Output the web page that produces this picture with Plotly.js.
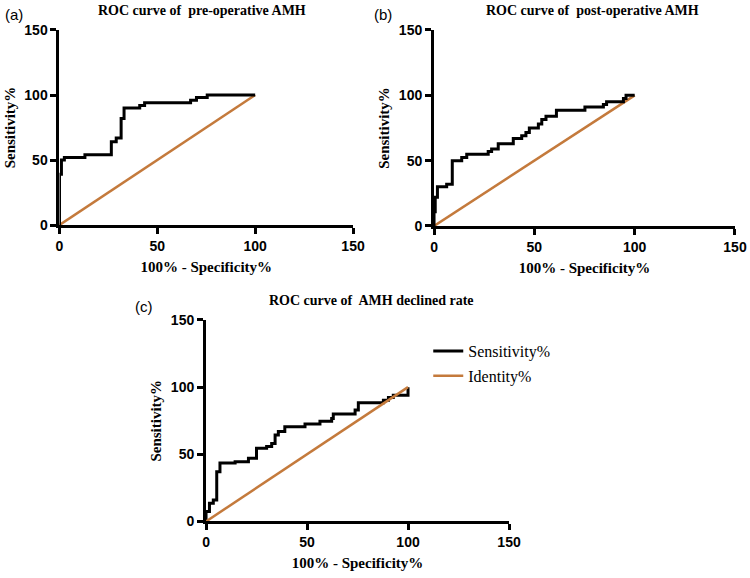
<!DOCTYPE html>
<html>
<head>
<meta charset="utf-8">
<script src="https://cdn.plot.ly/plotly-3.0.1.min.js"></script>
<style>html,body{margin:0;padding:0;background:#fff;}#chart{width:750px;height:578px;}</style>
</head>
<body>
<div id="chart"></div>
<script>
// Panel (a): pre-operative AMH
var preFpr = [0, 0, 1, 1, 2.5, 2.5, 13, 13, 26.5, 26.5, 29, 29, 31.5, 31.5, 33, 33, 41, 41, 43.5, 43.5, 67, 67, 70, 70, 75.5, 75.5, 100];
var preTpr = [0, 39, 39, 50, 50, 52, 52, 54, 54, 64, 64, 67, 67, 82, 82, 90, 90, 92, 92, 94, 94, 96, 96, 98, 98, 100, 100];
// Panel (b): post-operative AMH
var postFpr = [0, 0, 0.6, 0.6, 1.7, 1.7, 6.3, 6.3, 9.1, 9.1, 13.8, 13.8, 16.3, 16.3, 27, 27, 28.7, 28.7, 32, 32, 39.5, 39.5, 43.7, 43.7, 45.8, 45.8, 47.5, 47.5, 52, 52, 53.7, 53.7, 55.8, 55.8, 61, 61, 75.2, 75.2, 84.4, 84.4, 86, 86, 94.4, 94.4, 95.7, 95.7, 100];
var postTpr = [0, 11, 11, 22, 22, 30, 30, 32, 32, 50, 50, 52.5, 52.5, 55, 55, 57, 57, 59, 59, 63, 63, 67, 67, 69, 69, 71.5, 71.5, 75, 75, 78, 78, 81.5, 81.5, 84, 84, 88.5, 88.5, 91, 91, 93, 93, 95, 95, 97.5, 97.5, 100, 100];
// Panel (c): AMH declined rate
var rateFpr = [0, 0, 1.7, 1.7, 3.6, 3.6, 5.3, 5.3, 6.9, 6.9, 14.4, 14.4, 21, 21, 25, 25, 30, 30, 32.5, 32.5, 34.2, 34.2, 35.8, 35.8, 39, 39, 49, 49, 56.4, 56.4, 62.2, 62.2, 63, 63, 73.8, 73.8, 75.4, 75.4, 87.8, 87.8, 90.3, 90.3, 92.7, 92.7, 100, 100];
var rateTpr = [0, 7.5, 7.5, 13.5, 13.5, 16, 16, 37, 37, 43.5, 43.5, 44.5, 44.5, 47, 47, 54.5, 54.5, 55.8, 55.8, 58, 58, 64.3, 64.3, 67, 67, 70.5, 70.5, 72.5, 72.5, 74.7, 74.7, 76.7, 76.7, 80, 80, 83, 83, 88.3, 88.3, 90.3, 90.3, 92.3, 92.3, 94, 94, 100];
// Identity (reference) line
var identX = [0, 100];
var identY = [0, 100];

var seriesNames = ["Sensitivity%", "Identity%"];
var panelTitles = ["ROC curve of  pre-operative AMH", "ROC curve of  post-operative AMH", "ROC curve of  AMH declined rate"];
var panelLabels = ["(a)", "(b)", "(c)"];
var xTitle = "100% - Specificity%";
var yTitle = "Sensitivity%";
var tickVals = [0, 50, 100, 150];
var tickText = ["0", "50", "100", "150"];

var black = "#000000";
var orange = "#C47A3C";

function curve(x, y, xa, ya, show) {
  return {x: x, y: y, xaxis: xa, yaxis: ya, type: "scatter", mode: "lines",
    line: {color: black, width: 3, shape: "linear"}, name: seriesNames[0],
    showlegend: show, legendgroup: "g1", hoverinfo: "skip"};
}
function ident(xa, ya, show) {
  return {x: identX, y: identY, xaxis: xa, yaxis: ya, type: "scatter", mode: "lines",
    line: {color: orange, width: 2.5}, name: seriesNames[1],
    showlegend: show, legendgroup: "g2", hoverinfo: "skip"};
}

var data = [
  ident("x", "y", false), curve(preFpr, preTpr, "x", "y", false),
  ident("x2", "y2", false), curve(postFpr, postTpr, "x2", "y2", false),
  curve(rateFpr, rateTpr, "x3", "y3", true), ident("x3", "y3", true)
];

var tickFont = {family: "Liberation Sans, Arial, sans-serif", size: 14, color: black, weight: 700};
var titleFont = {family: "Liberation Serif, Times New Roman, serif", size: 15, color: black, weight: 700};

function xaxis(dom, anchor) {
  return {domain: dom, anchor: anchor, range: [0, 150], tickvals: tickVals, ticktext: tickText,
    showgrid: false, zeroline: false, showline: true, linewidth: 3, linecolor: black,
    ticks: "outside", ticklen: 6, tickwidth: 3, tickcolor: black, tickfont: tickFont,
    title: {text: xTitle, font: titleFont, standoff: 9}, fixedrange: true};
}
function yaxis(dom, anchor) {
  return {domain: dom, anchor: anchor, range: [0, 150], tickvals: tickVals, ticktext: tickText,
    showgrid: false, zeroline: false, showline: true, linewidth: 3, linecolor: black,
    ticks: "outside", ticklen: 6, tickwidth: 3, tickcolor: black, tickfont: tickFont,
    title: {text: yTitle, font: titleFont, standoff: 6}, fixedrange: true};
}

var panelTitleFont = {family: "Liberation Serif, Times New Roman, serif", size: 14, color: black, weight: 700};
var labelFont = {family: "Liberation Sans, Arial, sans-serif", size: 15, color: black};

var layout = {
  width: 750, height: 578,
  margin: {l: 0, r: 0, t: 0, b: 0},
  paper_bgcolor: "#ffffff", plot_bgcolor: "#ffffff",
  xaxis: xaxis([0.0793, 0.4707], "y"),
  yaxis: yaxis([0.6107, 0.9481], "x"),
  xaxis2: xaxis([0.5787, 0.98], "y2"),
  yaxis2: yaxis([0.609, 0.9481], "x2"),
  xaxis3: xaxis([0.2747, 0.6787], "y3"),
  yaxis3: yaxis([0.0978, 0.4464], "x3"),
  showlegend: true,
  legend: {x: 0.571, y: 1 - 334/578, xanchor: "left", yanchor: "top", bgcolor: "rgba(0,0,0,0)",
    font: {family: "Liberation Serif, Times New Roman, serif", size: 16, color: black},
    traceorder: "grouped", tracegroupgap: 1, itemwidth: 30},
  annotations: [
    {text: panelTitles[0], xref: "paper", yref: "paper", x: 202/750, y: 1 - 10.5/578, xanchor: "center", yanchor: "middle", showarrow: false, font: panelTitleFont},
    {text: panelTitles[1], xref: "paper", yref: "paper", x: 592/750, y: 1 - 10.5/578, xanchor: "center", yanchor: "middle", showarrow: false, font: panelTitleFont},
    {text: panelTitles[2], xref: "paper", yref: "paper", x: 371/750, y: 1 - 300/578, xanchor: "center", yanchor: "middle", showarrow: false, font: panelTitleFont},
    {text: panelLabels[0], xref: "paper", yref: "paper", x: 3/750, y: 1 - 14.5/578, xanchor: "left", yanchor: "middle", showarrow: false, font: labelFont},
    {text: panelLabels[1], xref: "paper", yref: "paper", x: 372/750, y: 1 - 14.5/578, xanchor: "left", yanchor: "middle", showarrow: false, font: labelFont},
    {text: panelLabels[2], xref: "paper", yref: "paper", x: 155/750, y: 1 - 306/578, xanchor: "right", yanchor: "middle", showarrow: false, font: labelFont}
  ]
};

Plotly.newPlot("chart", data, layout, {displayModeBar: false, staticPlot: true});
</script>
</body>
</html>
